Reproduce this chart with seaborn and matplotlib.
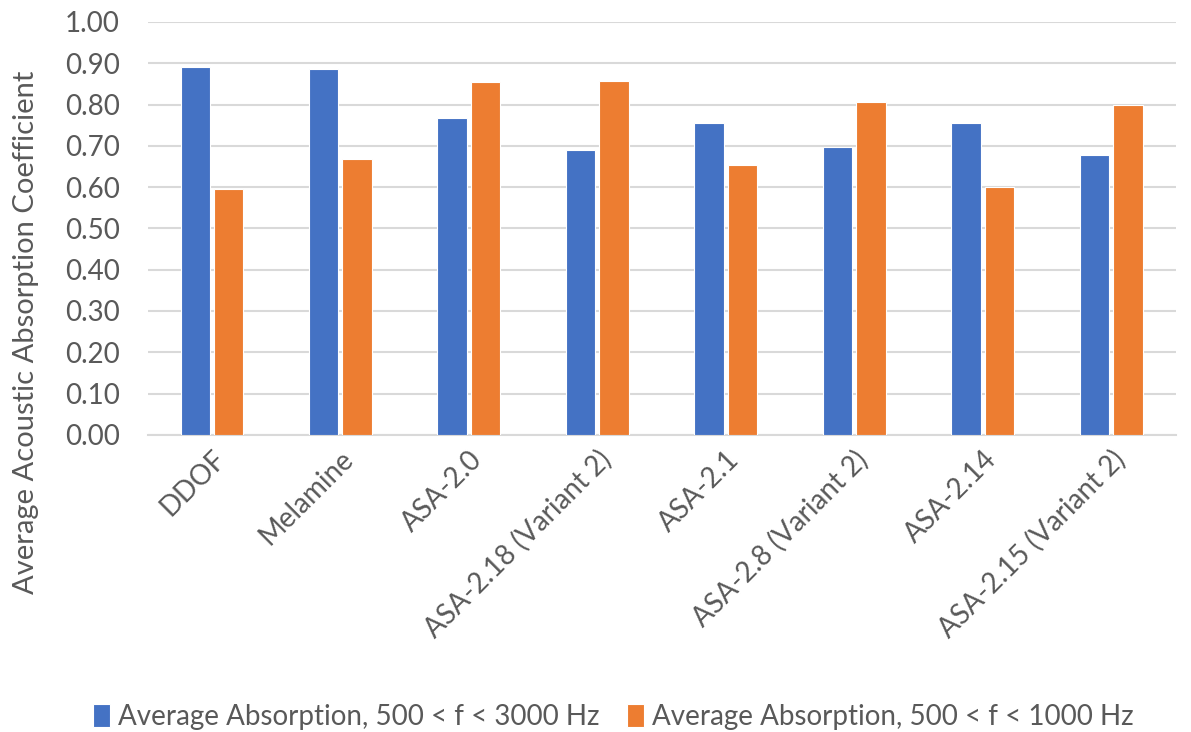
import pandas as pd
import matplotlib
matplotlib.use("Agg")
import matplotlib.pyplot as plt
import seaborn as sns

materials = ["DDOF", "Melamine", "ASA-2.0", "ASA-2.18 (Variant 2)", "ASA-2.1",
             "ASA-2.8 (Variant 2)", "ASA-2.14", "ASA-2.15 (Variant 2)"]
avg_500_3000 = [0.890, 0.886, 0.768, 0.689, 0.756, 0.698, 0.756, 0.678]
avg_500_1000 = [0.596, 0.669, 0.854, 0.857, 0.653, 0.806, 0.600, 0.800]
series_names = ["Average Absorption, 500 < f < 3000 Hz",
                "Average Absorption, 500 < f < 1000 Hz"]
yticks = [0.0, 0.1, 0.2, 0.3, 0.4, 0.5, 0.6, 0.7, 0.8, 0.9, 1.0]

df = pd.DataFrame({
    "Material": materials * 2,
    "Value": avg_500_3000 + avg_500_1000,
    "Series": [series_names[0]] * len(materials) + [series_names[1]] * len(materials),
})

sns.set_style("white")
plt.rcParams["font.family"] = ["Lato", "DejaVu Sans"]
grey = "#595959"

fig = plt.figure(figsize=(11.91, 7.32), dpi=100)
ax = fig.add_axes([0.124, 0.406, 0.863, 0.564])

sns.barplot(data=df, x="Material", y="Value", hue="Series",
            palette=["#4472C4", "#ED7D31"], saturation=1, width=0.52, gap=0.12,
            edgecolor="white", linewidth=0.8, ax=ax, legend=True, zorder=3)

ax.set_ylim(0, 1.0)
ax.set_yticks(yticks)
ax.set_yticklabels([f"{t:.2f}" for t in yticks], fontsize=20, color=grey)
ax.set_xlim(-0.5, len(materials) - 0.5)
ax.set_xticks(range(len(materials)))
ax.set_xticklabels(materials, rotation=45, ha="right", rotation_mode="anchor",
                   fontsize=20, color=grey)
ax.tick_params(axis="x", length=0, pad=8)
ax.tick_params(axis="y", length=0, pad=20)
ax.yaxis.grid(True, color="#d9d9d9", linewidth=1.5, zorder=0)
ax.set_axisbelow(True)
for s in ["top", "right", "left"]:
    ax.spines[s].set_visible(False)
ax.spines["bottom"].set_color("#d9d9d9")
ax.spines["bottom"].set_linewidth(1.5)
ax.set_xlabel("")
ax.set_ylabel("")
fig.text(0.022, 0.546, "Average Acoustic Absorption Coefficient", rotation=90,
         ha="center", va="center", fontsize=21, color=grey)

handles, labels = ax.get_legend_handles_labels()
ax.get_legend().remove()
fig.legend(handles, labels, loc="lower center", bbox_to_anchor=(0.515, -0.032), ncol=2,
           frameon=False, fontsize=20, handlelength=0.6, handleheight=0.9,
           handletextpad=0.3, columnspacing=1.0, labelcolor=grey)

plt.savefig("out.png", dpi=100)
